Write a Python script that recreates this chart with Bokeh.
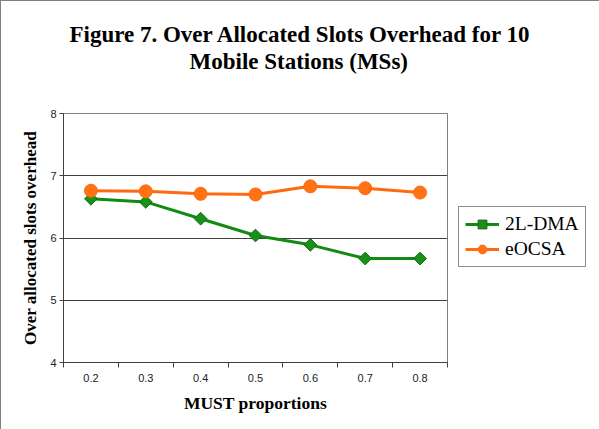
import math
from bokeh.plotting import figure
from bokeh.models import FixedTicker, Legend, LegendItem, Range1d, Title
from bokeh.embed import file_html
from bokeh.resources import INLINE

proportions = [0.2, 0.3, 0.4, 0.5, 0.6, 0.7, 0.8]
tick_labels = ["0.2", "0.3", "0.4", "0.5", "0.6", "0.7", "0.8"]
dma = [6.63, 6.58, 6.31, 6.04, 5.89, 5.67, 5.67]
eocsa = [6.76, 6.75, 6.71, 6.70, 6.83, 6.80, 6.73]
y_ticks = [4, 5, 6, 7, 8]
title_lines = ["Figure 7. Over Allocated Slots Overhead for 10", "Mobile Stations (MSs)"]

p = figure(frame_width=384, frame_height=249, output_backend="svg", toolbar_location=None,
           x_range=Range1d(0.15, 0.85), y_range=Range1d(4, 8),
           min_border_left=62, min_border_right=153, min_border_top=112, min_border_bottom=68)
p.styles = {"border": "1px solid #808080", "box-sizing": "border-box"}

bounds = [round(proportions[0] - 0.05 + 0.1 * i, 2) for i in range(len(proportions) + 1)]
p.xaxis.ticker = FixedTicker(ticks=proportions, minor_ticks=bounds)
p.xaxis.major_label_overrides = {v: t for v, t in zip(proportions, tick_labels)}
p.yaxis.ticker = FixedTicker(ticks=y_ticks, minor_ticks=[])

for ax in (p.xaxis[0], p.yaxis[0]):
    ax.axis_line_color = "#404040"
    ax.major_tick_line_color = "#404040"
    ax.minor_tick_line_color = "#404040"
    ax.major_label_text_font = "Liberation Sans"
    ax.major_label_text_font_size = "11px"
    ax.major_label_text_color = "#222222"
    ax.axis_label_text_font = "Liberation Serif"
    ax.axis_label_text_font_style = "bold"
    ax.axis_label_text_color = "#000000"

p.xaxis.axis_label_text_font_size = "17.5px"
p.yaxis.axis_label_text_font_size = "17px"

p.xaxis.major_tick_out = 0
p.xaxis.major_tick_in = 0
p.xaxis.minor_tick_out = 5
p.xaxis.minor_tick_in = 0
p.xaxis.major_label_standoff = 6
p.xaxis.axis_label = "MUST proportions"
p.xaxis.axis_label_standoff = 8

p.yaxis.major_tick_out = 4
p.yaxis.major_tick_in = 0
p.yaxis.major_label_standoff = 3
p.yaxis.axis_label = "Over allocated slots overhead"
p.yaxis.axis_label_standoff = 7

p.xgrid.visible = False
p.ygrid.grid_line_color = "#404040"
p.ygrid.grid_line_width = 1
p.outline_line_color = "#808080"
p.background_fill_color = "white"
p.border_fill_color = "white"

l1 = p.line(proportions, dma, line_color="#138a13", line_width=3)
s1 = p.scatter(proportions, dma, marker="square", angle=math.pi / 4, size=9,
               fill_color="#1a8f1a", line_color="#0b6e0b", line_width=1)
l2 = p.line(proportions, eocsa, line_color="#ff6a10", line_width=3)
s2 = p.scatter(proportions, eocsa, marker="circle", size=13,
               fill_color="#ff7315", line_color="#ff6a10", line_width=1)

legend = Legend(items=[LegendItem(label="2L-DMA", renderers=[l1, s1]),
                       LegendItem(label="eOCSA", renderers=[l2, s2])],
                location=(11, 95))
legend.label_text_font = "Liberation Serif"
legend.label_text_font_size = "19.5px"
legend.label_text_color = "#000000"
legend.border_line_color = "#202020"
legend.glyph_width = 34
legend.glyph_height = 22
legend.label_height = 22
legend.label_standoff = 6
legend.spacing = 3
legend.padding = 6
legend.margin = 0
p.add_layout(legend, "right")

# spacer between frame and title lines
p.add_layout(Title(text=" ", standoff=27, text_font_size="10px"), "above")
offsets = [6, 126]
for i in (1, 0):
    p.add_layout(Title(text=title_lines[i], align="left", offset=offsets[i],
                       standoff=0,
                       text_font="Liberation Serif", text_font_style="bold",
                       text_font_size="23px", text_color="#000000"), "above")

open("out.html", "w").write(file_html(p, INLINE))
